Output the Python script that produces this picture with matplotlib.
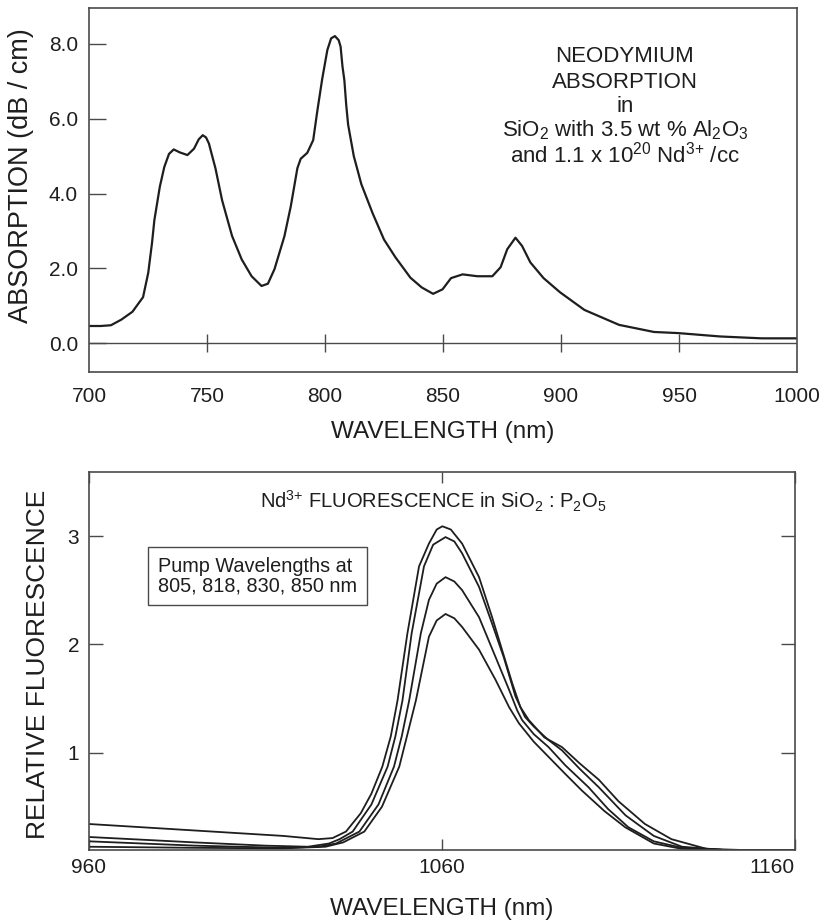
import numpy as np
import matplotlib
matplotlib.use('Agg')
import matplotlib.pyplot as plt

plt.rcParams['font.family'] = ['Liberation Sans', 'DejaVu Sans']
plt.rcParams['mathtext.fontset'] = 'custom'
plt.rcParams['mathtext.rm'] = 'Liberation Sans'
plt.rcParams['mathtext.it'] = 'Liberation Sans'
plt.rcParams['mathtext.default'] = 'rm'

INK = '#1e1e1e'
FRAME = '#4a4a4a'

# --- top panel: Nd absorption ---
abs_nm = [700, 705, 709.3, 713.7, 718.4, 722.9, 725.1, 726.7, 727.7, 730, 731.9, 733.9,
          735.9, 738.5, 741.7, 744.5, 746.5, 748.2, 749.6, 750.8, 753.6, 756.4, 760.6,
          764.7, 768.9, 773.1, 775.8, 778.6, 782.8, 785.5, 788.3, 789.7, 792.5, 795,
          796.7, 798.8, 801, 802.6, 804.2, 805.8, 806.6, 807.4, 808.2, 809, 809.8, 812.2,
          815.4, 820.2, 825, 829.8, 836.2, 841, 845.8, 849.8, 853.4, 858.3, 864.6, 870.9,
          874.4, 877.2, 880.7, 883.5, 887, 892.6, 899.6, 909.9, 924.6, 939.4, 949.7,
          967.4, 985, 1000]
abs_db = [0.46, 0.46, 0.48, 0.63, 0.84, 1.23, 1.88, 2.68, 3.29, 4.18, 4.71, 5.06,
          5.18, 5.10, 5.03, 5.20, 5.45, 5.56, 5.50, 5.34, 4.67, 3.82, 2.87,
          2.24, 1.79, 1.53, 1.59, 1.98, 2.86, 3.66, 4.68, 4.93, 5.09, 5.43,
          6.19, 7.06, 7.84, 8.15, 8.21, 8.10, 7.93, 7.40, 7.03, 6.36, 5.84, 5.00,
          4.25, 3.47, 2.77, 2.30, 1.75, 1.49, 1.32, 1.44, 1.74, 1.84, 1.79, 1.79,
          2.03, 2.51, 2.82, 2.60, 2.16, 1.74, 1.36, 0.89, 0.49, 0.30, 0.27,
          0.18, 0.13, 0.13]
abs_xticks = [700, 750, 800, 850, 900, 950, 1000]
abs_yticks = [0.0, 2.0, 4.0, 6.0, 8.0]
zero_marks = [750, 800, 850, 900, 950]

# --- bottom panel: fluorescence for four pump wavelengths ---
fl_a_nm = [960, 980, 1000, 1015, 1025, 1029, 1032.8, 1037, 1040, 1043.1, 1045.5, 1047.4,
           1050.2, 1053.5, 1056.3, 1058.5, 1060.1, 1062.5, 1065.7, 1070.5, 1074.2, 1077,
           1079.9, 1082.2, 1084.6, 1089, 1094, 1099, 1104.4, 1110, 1117.5, 1125, 1135,
           1145, 1160]
fl_a = [0.34, 0.30, 0.26, 0.23, 0.20, 0.21, 0.27, 0.44, 0.62, 0.87, 1.15, 1.48,
        2.10, 2.72, 2.93, 3.06, 3.09, 3.06, 2.93, 2.62, 2.25, 1.95,
        1.64, 1.42, 1.30, 1.14, 1.05, 0.90, 0.75, 0.55, 0.34, 0.20, 0.11,
        0.10, 0.10]
fl_b_nm = [960, 990, 1010, 1022, 1028, 1031, 1034.7, 1040, 1044.6, 1046.8, 1048.8, 1051.4,
           1054.9, 1057.5, 1061, 1063.5, 1065.7, 1070.5, 1074.2, 1077.5, 1080.8, 1083.5,
           1086, 1090, 1094, 1099, 1104.4, 1112, 1120, 1128, 1140, 1160]
fl_b = [0.22, 0.17, 0.14, 0.13, 0.16, 0.20, 0.27, 0.52, 0.87, 1.15, 1.48, 2.10,
        2.72, 2.92, 2.99, 2.95, 2.84, 2.53, 2.19, 1.88, 1.52, 1.33,
        1.24, 1.12, 1.02, 0.85, 0.68, 0.42, 0.23, 0.13, 0.10, 0.10]
fl_c_nm = [960, 990, 1015, 1025, 1030, 1036.6, 1042, 1046.4, 1048.6, 1050.7, 1054, 1056.3,
           1058.5, 1061, 1063.5, 1065.7, 1070.5, 1075.2, 1079, 1081.3, 1082.7, 1086,
           1090.2, 1095, 1101.5, 1107, 1112.8, 1120, 1128, 1140, 1160]
fl_c = [0.18, 0.14, 0.12, 0.13, 0.16, 0.27, 0.52, 0.87, 1.15, 1.48, 2.10, 2.41,
        2.56, 2.62, 2.58, 2.50, 2.25, 1.88, 1.58, 1.39, 1.30, 1.17,
        1.05, 0.88, 0.68, 0.48, 0.31, 0.18, 0.12, 0.10, 0.10]
fl_d_nm = [960, 990, 1015, 1027, 1032, 1038, 1043, 1047.9, 1050.3, 1052.6, 1056.3, 1058.5,
           1061, 1063.5, 1065.7, 1070.5, 1075.2, 1079, 1081.8, 1086, 1090.2, 1095,
           1099.6, 1106, 1111.9, 1120, 1128, 1140, 1160]
fl_d = [0.13, 0.12, 0.115, 0.13, 0.17, 0.27, 0.50, 0.87, 1.18, 1.48, 2.07, 2.22,
        2.28, 2.24, 2.16, 1.95, 1.67, 1.42, 1.27, 1.10, 0.96, 0.80,
        0.65, 0.46, 0.31, 0.16, 0.11, 0.10, 0.10]
fl_xticks = [960, 1060, 1160]
fl_yticks = [1, 2, 3]

fig = plt.figure(figsize=(8.21, 9.24), dpi=100)
fig.patch.set_facecolor('white')

# ---------------- top ----------------
ax1 = fig.add_axes([0.1084, 0.5974, 0.8624, 0.3939])
ax1.plot(abs_nm, abs_db, color=INK, linewidth=1.6, solid_joinstyle='round')
ax1.axhline(0, color=FRAME, linewidth=1.0)
ax1.plot(zero_marks, np.zeros(len(zero_marks)), linestyle='none', marker='|',
         markersize=13, markeredgewidth=1.0, color=FRAME)
ax1.set_xlim(700, 1000)
ax1.set_ylim(-0.77, 8.96)
ax1.set_xticks(abs_xticks)
ax1.set_yticks(abs_yticks)
ax1.set_yticklabels(['%.1f' % v for v in abs_yticks])
ax1.tick_params(axis='y', direction='in', length=12, width=1.0, color=FRAME,
                labelsize=15, pad=8, labelcolor=INK)
ax1.tick_params(axis='x', length=0, labelsize=15, pad=11, labelcolor=INK)
for s in ax1.spines.values():
    s.set_color(FRAME)
    s.set_linewidth(1.2)
ax1.set_xlabel('WAVELENGTH (nm)', fontsize=17.5, color=INK)
ax1.xaxis.set_label_coords(0.5, -0.135)
ax1.set_ylabel('ABSORPTION (dB / cm)', fontsize=19.5, color=INK)
ax1.yaxis.set_label_coords(-0.078, 0.54)

note_lines = ['NEODYMIUM', 'ABSORPTION', 'in',
              r'SiO$_2$ with 3.5 wt % Al$_2$O$_3$',
              r'and 1.1 x 10$^{20}$ Nd$^{3\text{+}}$ /cc']
note_y = [0.8525, 0.779, 0.715, 0.646, 0.575]
for txt, yy in zip(note_lines, note_y):
    ax1.text(0.757, yy, txt, transform=ax1.transAxes, ha='center', va='baseline',
             fontsize=16, color=INK)

# ---------------- bottom ----------------
ax2 = fig.add_axes([0.1084, 0.0801, 0.8599, 0.4094])
for xs, ys in [(fl_a_nm, fl_a), (fl_b_nm, fl_b), (fl_c_nm, fl_c), (fl_d_nm, fl_d)]:
    ax2.plot(xs, ys, color=INK, linewidth=1.3, solid_joinstyle='round')
ax2.set_xlim(960, 1160)
ax2.set_ylim(0.1, 3.594)
ax2.set_xticks(fl_xticks)
ax2.set_yticks(fl_yticks)
ax2.tick_params(axis='y', direction='in', length=10, width=1.0, color=FRAME,
                labelsize=15, pad=7, labelcolor=INK, right=True)
ax2.tick_params(axis='x', direction='in', length=8, width=1.0, color=FRAME,
                labelsize=15, pad=6, labelcolor=INK, top=True)
ax2.get_xticklabels()[-1].set_ha('right')
for s in ax2.spines.values():
    s.set_color(FRAME)
    s.set_linewidth(1.2)
ax2.set_xlabel('WAVELENGTH (nm)', fontsize=17.5, color=INK)
ax2.xaxis.set_label_coords(0.5, -0.128)
ax2.set_ylabel('RELATIVE FLUORESCENCE', fontsize=19, color=INK)
ax2.yaxis.set_label_coords(-0.055, 0.49)

ax2.text(0.242, 0.904, r'Nd$^{3\text{+}}$ FLUORESCENCE in SiO$_2$ : P$_2$O$_5$',
         transform=ax2.transAxes, ha='left', va='baseline', fontsize=14.5, color=INK)
ax2.text(0.0977, 0.724, 'Pump Wavelengths at\n805, 818, 830, 850 nm',
         transform=ax2.transAxes, ha='left', va='center', fontsize=14.3, color=INK,
         linespacing=1.05,
         bbox=dict(boxstyle='square,pad=0.5', facecolor='white', edgecolor=FRAME,
                   linewidth=1.0))

fig.savefig('out.png', dpi=100, facecolor='white')
